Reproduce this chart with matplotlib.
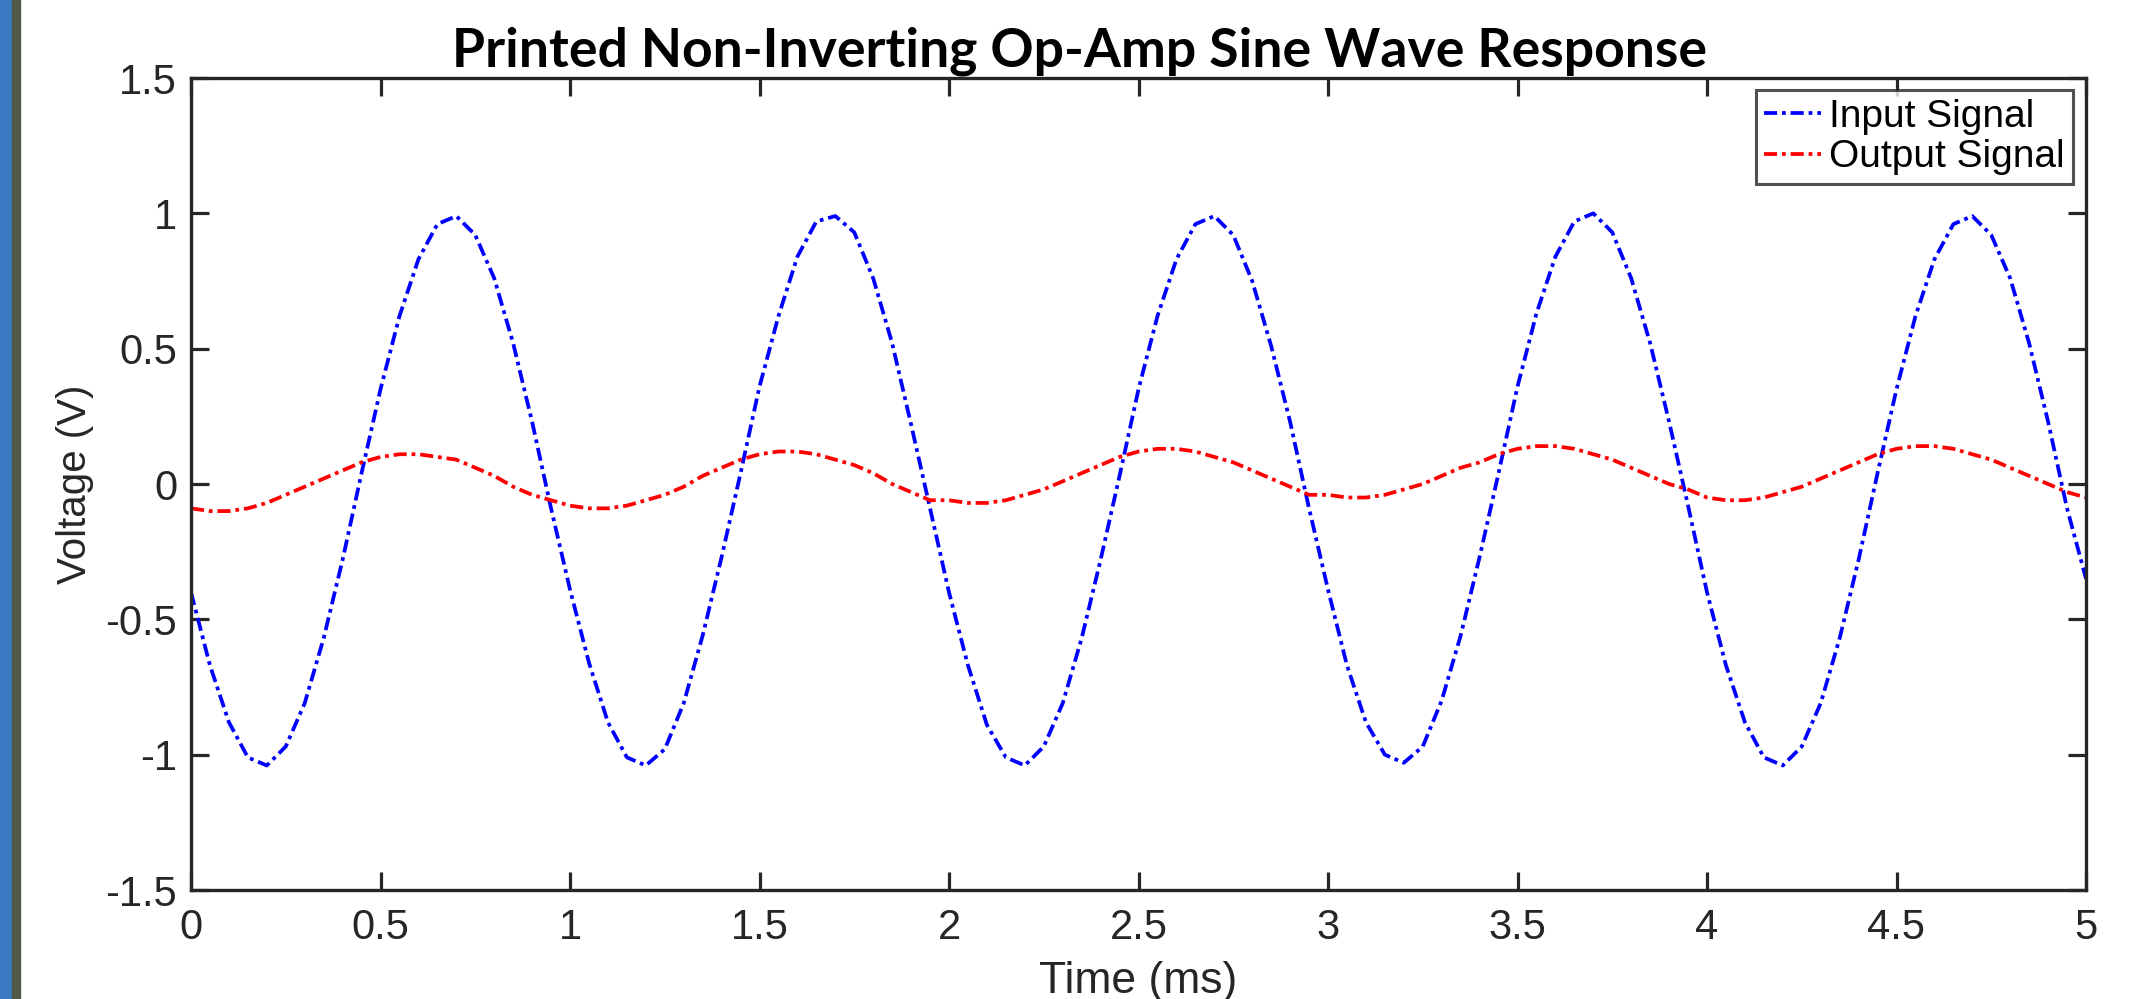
import numpy as np
import matplotlib.pyplot as plt
from matplotlib.patches import Rectangle

# time axis (ms), samples every 0.05 ms
time_ms = np.arange(101) * 0.05

# input signal, one row per period
input_v = [
    -0.40, -0.67, -0.88, -1.01, -1.04, -0.97, -0.81, -0.57, -0.28, 0.04,
    0.35, 0.62, 0.83, 0.96, 0.99, 0.92, 0.76, 0.52, 0.23, -0.09,
    -0.39, -0.66, -0.88, -1.01, -1.04, -0.98, -0.81, -0.56, -0.27, 0.04,
    0.36, 0.62, 0.84, 0.97, 0.99, 0.93, 0.76, 0.52, 0.22, -0.09,
    -0.40, -0.67, -0.89, -1.01, -1.04, -0.97, -0.81, -0.57, -0.28, 0.03,
    0.35, 0.62, 0.83, 0.96, 0.99, 0.92, 0.75, 0.51, 0.23, -0.09,
    -0.39, -0.67, -0.88, -1.00, -1.03, -0.97, -0.80, -0.56, -0.27, 0.04,
    0.36, 0.63, 0.84, 0.97, 1.00, 0.93, 0.76, 0.52, 0.23, -0.08,
    -0.40, -0.67, -0.88, -1.01, -1.04, -0.97, -0.81, -0.57, -0.28, 0.04,
    0.35, 0.62, 0.83, 0.96, 0.99, 0.92, 0.76, 0.52, 0.23, -0.09,
    -0.35,
]

output_v = [
    -0.09, -0.10, -0.10, -0.09, -0.07, -0.04, -0.01, 0.02, 0.05, 0.08,
    0.10, 0.11, 0.11, 0.10, 0.09, 0.06, 0.03, -0.01, -0.04, -0.06,
    -0.08, -0.09, -0.09, -0.08, -0.06, -0.04, -0.01, 0.03, 0.06, 0.09,
    0.11, 0.12, 0.12, 0.11, 0.09, 0.07, 0.04, 0.00, -0.03, -0.06,
    -0.06, -0.07, -0.07, -0.06, -0.04, -0.02, 0.01, 0.04, 0.07, 0.10,
    0.12, 0.13, 0.13, 0.12, 0.10, 0.08, 0.05, 0.02, -0.01, -0.04,
    -0.04, -0.05, -0.05, -0.04, -0.02, 0.00, 0.03, 0.06, 0.08, 0.11,
    0.13, 0.14, 0.14, 0.13, 0.11, 0.09, 0.06, 0.03, 0.00, -0.02,
    -0.05, -0.06, -0.06, -0.05, -0.03, -0.01, 0.02, 0.05, 0.08, 0.11,
    0.13, 0.14, 0.14, 0.13, 0.11, 0.09, 0.06, 0.03, 0.00, -0.03,
    -0.05,
]

x_ticks = [0, 0.5, 1, 1.5, 2, 2.5, 3, 3.5, 4, 4.5, 5]
y_ticks = [-1.5, -1, -0.5, 0, 0.5, 1, 1.5]

dark = '#262626'
dashdot = (0, (3.5, 1.3, 1.0, 1.3))
plt.rcParams['font.family'] = ['Liberation Sans', 'DejaVu Sans']

fig = plt.figure(figsize=(21.41, 9.99), dpi=100)

# poster edge on the left
fig.patches.append(Rectangle((0, 0), 12 / 2141, 1, transform=fig.transFigure,
                             color='#3a7bc4', zorder=0))
fig.patches.append(Rectangle((12 / 2141, 0), 8 / 2141, 1, transform=fig.transFigure,
                             color='#505a47', zorder=0))
# cut off heading above the chart
fig.text(595 / 2141, 1.015, 'g', family='Liberation Serif', fontsize=40,
         ha='center', va='baseline', color='black')

ax = fig.add_axes([191 / 2141, 1 - 890 / 999, 1895 / 2141, 812 / 999])
ax.plot(time_ms, input_v, color='#0000ff', linestyle=dashdot, linewidth=2.7,
        label='Input Signal')
ax.plot(time_ms, output_v, color='#ff0000', linestyle=dashdot, linewidth=2.7,
        label='Output Signal')

ax.set_xlim(0, 5)
ax.set_ylim(-1.5, 1.5)
ax.set_xticks(x_ticks)
ax.set_xticklabels(['%g' % v for v in x_ticks])
ax.set_yticks(y_ticks)
ax.set_yticklabels(['%g' % v for v in y_ticks])
ax.tick_params(direction='in', length=13, width=2.3, colors=dark, labelsize=30,
               top=True, right=True)
ax.tick_params(axis='x', pad=13)
ax.tick_params(axis='y', pad=10)
for s in ax.spines.values():
    s.set_linewidth(2.4)
    s.set_color(dark)

ax.set_xlabel('Time (ms)', fontsize=32, color=dark, va='top')
ax.xaxis.set_label_coords(0.5, -0.088)
ax.set_ylabel('Voltage (V)', fontsize=29, color=dark)
ax.yaxis.set_label_coords(-0.051, 0.5)

fig.text(1080 / 2141, 1 - 66 / 999, 'Printed Non-Inverting Op-Amp Sine Wave Response',
         family='Lato', fontweight='bold', fontsize=38.5, ha='center', va='baseline',
         color='black')

leg = ax.legend(loc='upper right', bbox_to_anchor=(0.993, 0.985), fontsize=28,
                frameon=True, fancybox=False, borderaxespad=0, borderpad=0.22,
                handlelength=1.45, handletextpad=0.2, labelspacing=0.12)
leg.get_frame().set_edgecolor(dark)
leg.get_frame().set_linewidth(2.2)
for t in leg.get_texts():
    t.set_color('black')

fig.savefig('out.png', dpi=100)
